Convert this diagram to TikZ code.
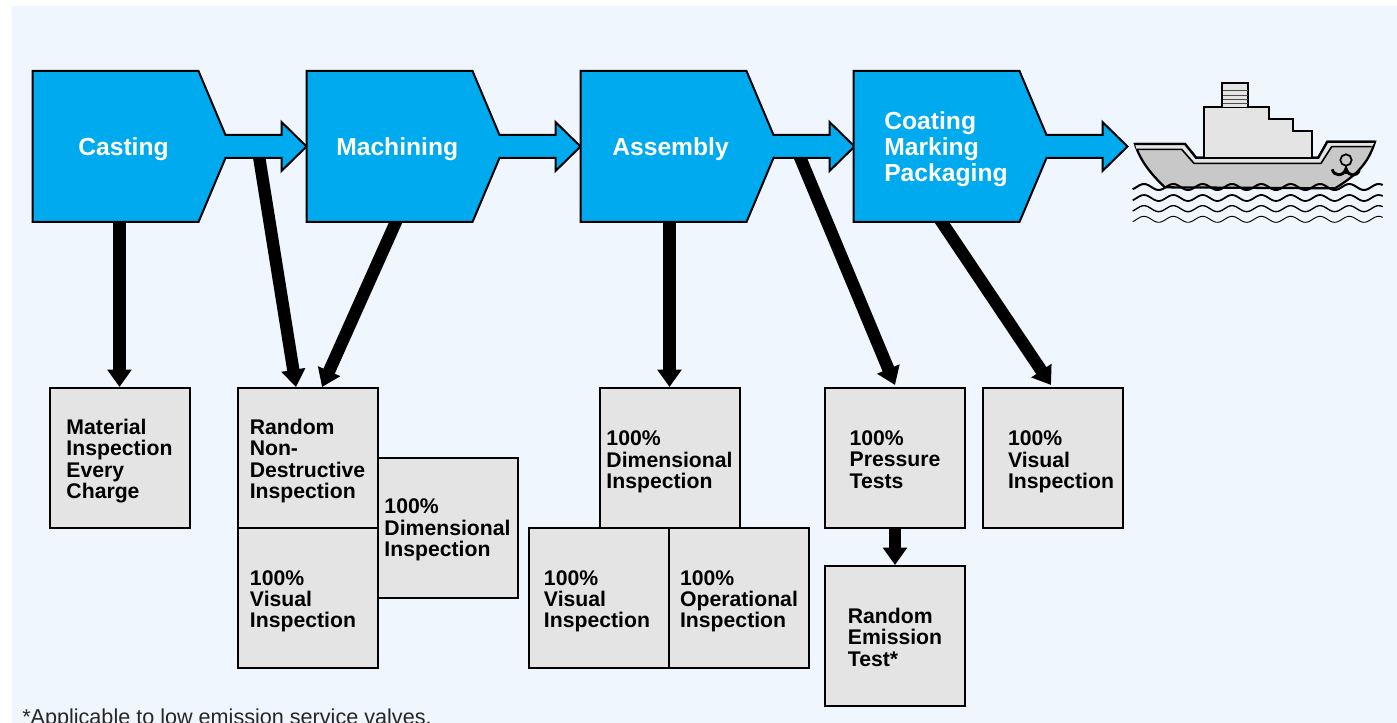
\documentclass[tikz,border=0pt]{standalone}
\usepackage{fontspec}
\setmainfont{Liberation Sans}
\usetikzlibrary{arrows.meta}
\definecolor{panelbg}{HTML}{EFF6FE}
\definecolor{stageblue}{HTML}{00AAEE}
\definecolor{boxgray}{HTML}{E4E4E4}
\definecolor{hullgray}{HTML}{C8C8C8}
\newcommand{\toppad}[1]{\rule{0pt}{#1}}
\tikzset{
  inspectbox/.style={draw,line width=1.5pt,fill=boxgray,minimum width=105pt,minimum height=105pt,
    inner sep=0pt,align=left,font=\fontsize{15.9}{16.1}\selectfont\bfseries},
  stagetext/.style={text=white,inner sep=0pt,align=left,font=\fontsize{18.5}{19.5}\selectfont\bfseries},
  stageshape/.style={draw,line width=1.5pt,fill=stageblue,line join=miter},
  connector/.style={line width=9.25pt,-{Triangle[length=13pt,width=17.5pt]}},
  shipline/.style={draw,line width=1.7pt,line join=miter}
}
\begin{document}
\begin{tikzpicture}[x=.75pt,y=-.75pt]
  \useasboundingbox (0,0) rectangle (1397,723);
  \fill[white] (0,0) rectangle (1397,723);
  \fill[panelbg] (12,6) rectangle (1397,723);
  \draw
    (119.5,458) node[inspectbox] (material){\toppad{16pt}Material\\Inspection\\Every\\Charge}
    (307.5,458) node[inspectbox] (ndt){\toppad{16pt}Random\\Non-\\Destructive\\Inspection}
    (307.5,598) node[inspectbox] (ndtvisual){\toppad{16pt}100\%\\Visual\\Inspection\hspace*{6.75pt}}
    (447.5,528) node[inspectbox] (machdim){\toppad{14.5pt}100\%\\Dimensional\\Inspection}
    (669.5,458) node[inspectbox] (asmdim){\toppad{17.5pt}100\%\\Dimensional\\Inspection}
    (599,598) node[inspectbox] (asmvisual){\toppad{16pt}100\%\\Visual\\Inspection\hspace*{3pt}}
    (739,598) node[inspectbox] (asmoper){\toppad{16pt}100\%\\Operational\\Inspection}
    (895,458) node[inspectbox] (pressure){\toppad{13pt}100\%\\Pressure\\Tests}
    (895,636) node[inspectbox] (emission){\toppad{13pt}Random\\Emission\\Test*}
    (1053,458) node[inspectbox] (finalvisual){\toppad{17.5pt}\hspace*{12pt}100\%\\\hspace*{12pt}Visual\\\hspace*{12pt}Inspection};
  \coordinate (castingfoot) at (119.5,215);
  \coordinate (castingneck) at (258,150);
  \coordinate (machiningfoot) at (399,215);
  \coordinate (assemblyfoot) at (669.5,215);
  \coordinate (assemblyneck) at (797,150);
  \coordinate (coatingfoot) at (937,215);
  \begin{scope}[connector]
    \draw (castingfoot) to (material.north);
    \draw (castingneck) to ([xshift=-8.6pt]ndt.north);
    \draw (machiningfoot) to ([xshift=10.9pt]ndt.north);
    \draw (assemblyfoot) to (asmdim.north);
    \draw (assemblyneck) to ([yshift=1.5pt]pressure.north);
    \draw (coatingfoot) to ([xshift=-1.5pt,yshift=1.5pt]finalvisual.north);
    \draw (pressure.south) to (emission.north);
  \end{scope}
  \foreach \x in {32.5,306.5,580.5,853.5}
    \draw[stageshape,shift={(\x,0)}] (0,71) -- (166,71) -- (193,135) -- (249,135) -- (249,122)
      -- (274,146.5) -- (249,171) -- (249,158) -- (193,158) -- (166,222) -- (0,222) -- cycle;
  \node[stagetext,anchor=base west] (casting) at (78,156) {Casting};
  \node[stagetext,anchor=base west] (machining) at (336,156) {Machining};
  \node[stagetext,anchor=base west] (assembly) at (612,156) {Assembly};
  \node[stagetext,anchor=west] (coating) at (884,149) {Coating\\Marking\\Packaging};
  \begin{scope}[shift={(1120,70)},x=.25pt,y=-.25pt]
    \draw[shipline,fill=hullgray] (45,222) -- (195,222) -- (228,263) -- (595,263) -- (622,215) -- (765,215)
      .. controls (745,280) and (710,315) .. (645,355) -- (135,352) .. controls (90,310) and (60,270) .. (45,222) -- cycle;
    \fill[boxgray] (45,222) -- (195,222) -- (228,263) -- (595,263) -- (622,215) -- (765,215) -- (755,230)
      -- (635,230) -- (603,280) -- (222,280) -- (185,238) -- (50,238) -- cycle;
    \draw[shipline] (45,222) -- (195,222) -- (228,263) -- (595,263) -- (622,215) -- (765,215);
    \draw[line width=1.2pt] (50,238) -- (185,238) -- (222,280) -- (603,280) -- (635,230) -- (755,230);
    \draw[shipline,fill=boxgray] (253,263) -- (253,112) -- (447,112) -- (447,148) -- (519,148) -- (519,183)
      -- (575,183) -- (575,263) -- cycle;
    \draw[shipline,fill=boxgray] (307,112) -- (307,38) -- (385,38) -- (385,112);
    \foreach \rowy in {62,75,88,100}
      \draw[line width=.7pt,black!70] (309,\rowy) -- (383,\rowy);
    \draw[line width=1.3pt] (678,270) circle (17);
    \draw[line width=1.8pt] (678,286) -- (678,312);
    \draw[line width=2.2pt] (637,298) .. controls (640,318) and (670,322) .. (678,296)
      .. controls (686,322) and (712,320) .. (718,300);
    \foreach \rowy/\rowlw in {351/1.5,384/1.3,416/1,448/.7}
      \draw[line width=\rowlw pt] plot[smooth,domain=38:788,samples=130] (\x,{\rowy-9*sin((\x-50)*4.0909)});
  \end{scope}
  \node[anchor=base west,inner sep=0pt,font=\fontsize{16.2}{18}\selectfont,text=black!85] (footnote) at (22,724) {*Applicable to low emission service valves.};
\end{tikzpicture}
\end{document}
